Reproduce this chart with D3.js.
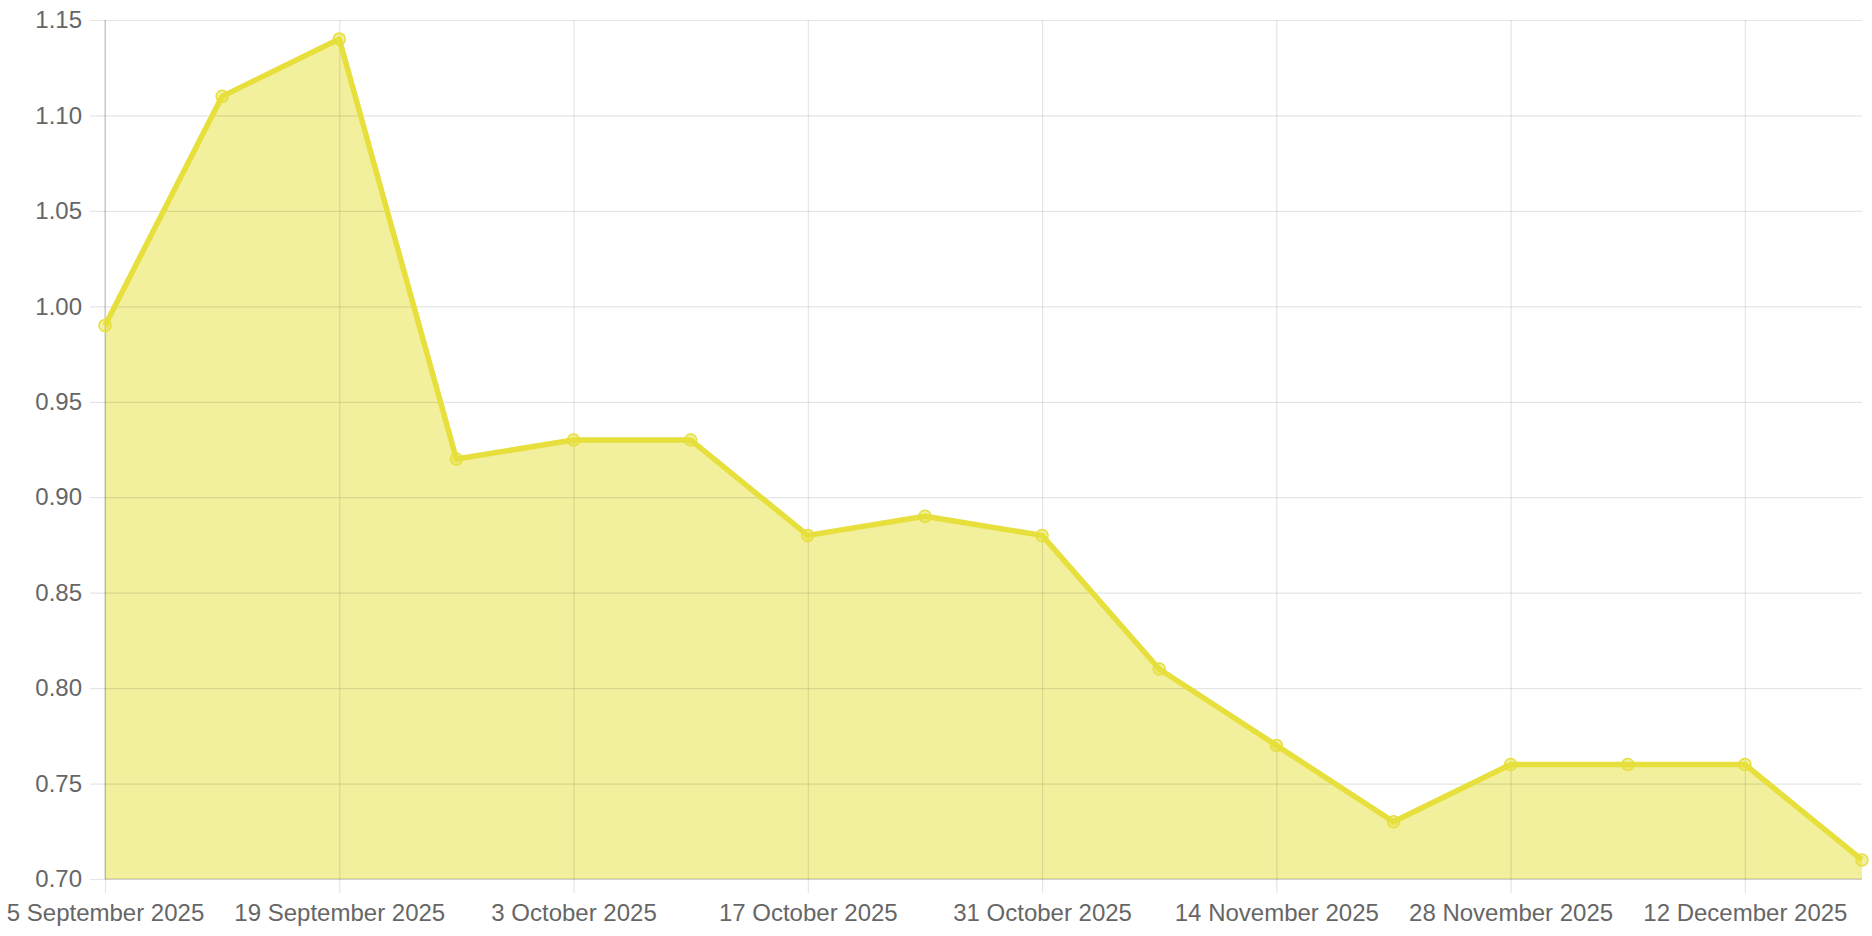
<!DOCTYPE html>
<html>
<head>
<meta charset="utf-8">
<script src="https://cdn.jsdelivr.net/npm/d3@7"></script>
<style>
  html, body { margin: 0; padding: 0; background: #fff; }
  text { font-family: "Liberation Sans", Arial, Helvetica, sans-serif; fill: #666; }
</style>
</head>
<body>
<div id="chart"></div>
<script>
// weekly readings, Friday dates
const dates = [
  "2025-09-05", "2025-09-12", "2025-09-19", "2025-09-26",
  "2025-10-03", "2025-10-10", "2025-10-17", "2025-10-24",
  "2025-10-31", "2025-11-07", "2025-11-14", "2025-11-21",
  "2025-11-28", "2025-12-05", "2025-12-12", "2025-12-19"
];
const values = [
  0.99, 1.11, 1.14, 0.92,
  0.93, 0.93, 0.88, 0.89,
  0.88, 0.81, 0.77, 0.73,
  0.76, 0.76, 0.76, 0.71
];
const xTickDates = [
  "2025-09-05", "2025-09-19", "2025-10-03", "2025-10-17",
  "2025-10-31", "2025-11-14", "2025-11-28", "2025-12-12"
];
const yTicks = [0.70, 0.75, 0.80, 0.85, 0.90, 0.95, 1.00, 1.05, 1.10, 1.15];

const W = 1872, H = 936;
const margin = {top: 20, right: 10, bottom: 57, left: 105};
const lineColor = "#e6df3c";

const parse = d3.utcParse("%Y-%m-%d");
const data = dates.map((d, i) => ({date: parse(d), value: values[i]}));

const svg = d3.select("#chart").append("svg")
  .attr("width", W)
  .attr("height", H);

const x = d3.scaleUtc()
  .domain(d3.extent(data, d => d.date))
  .range([margin.left, W - margin.right]);

const y = d3.scaleLinear()
  .domain([0.70, 1.15])
  .range([H - margin.bottom, margin.top]);

// fill first, gridlines show through it
svg.append("path")
  .datum(data)
  .attr("fill", lineColor)
  .attr("fill-opacity", 0.5)
  .attr("d", d3.area()
    .x(d => x(d.date))
    .y0(y(0.70))
    .y1(d => y(d.value)));

// y gridlines + labels
let yAxis = svg.append("g")
  .attr("transform", `translate(${margin.left},0)`)
  .call(d3.axisLeft(y)
    .tickValues(yTicks)
    .tickFormat(d3.format(".2f"))
    .tickSize(15)
    .tickPadding(8));
yAxis.select(".domain").remove();
yAxis.selectAll(".tick line")
  .attr("x1", W - margin.right - margin.left)
  .attr("x2", -15)
  .attr("stroke", "rgba(0,0,0,0.1)")
  .attr("stroke-width", 1.2);
yAxis.selectAll(".tick text").style("font-size", "24px");

// x gridlines + labels
let xAxis = svg.append("g")
  .attr("transform", `translate(0,${H - margin.bottom})`)
  .call(d3.axisBottom(x)
    .tickValues(xTickDates.map(parse))
    .tickFormat(d3.utcFormat("%-d %B %Y"))
    .tickSize(14)
    .tickPadding(11));
xAxis.select(".domain").remove();
xAxis.selectAll(".tick line")
  .attr("y1", -(H - margin.bottom - margin.top))
  .attr("y2", 14)
  .attr("stroke", "rgba(0,0,0,0.1)")
  .attr("stroke-width", 1.2);
xAxis.selectAll(".tick text").style("font-size", "24px");

// axis lines
svg.append("line")
  .attr("x1", margin.left).attr("x2", margin.left)
  .attr("y1", margin.top).attr("y2", H - margin.bottom)
  .attr("stroke", "rgba(0,0,0,0.15)")
  .attr("stroke-width", 1.5);
svg.append("line")
  .attr("x1", margin.left).attr("x2", W - margin.right)
  .attr("y1", H - margin.bottom).attr("y2", H - margin.bottom)
  .attr("stroke", "rgba(0,0,0,0.12)")
  .attr("stroke-width", 1.5);

svg.append("path")
  .datum(data)
  .attr("fill", "none")
  .attr("stroke", lineColor)
  .attr("stroke-width", 5.5)
  .attr("stroke-linejoin", "round")
  .attr("d", d3.line()
    .x(d => x(d.date))
    .y(d => y(d.value)));

svg.append("g")
  .selectAll("circle")
  .data(data)
  .join("circle")
  .attr("cx", d => x(d.date))
  .attr("cy", d => y(d.value))
  .attr("r", 6)
  .attr("fill", "rgba(230,223,60,0.5)")
  .attr("stroke", lineColor)
  .attr("stroke-width", 1.5);
</script>
</body>
</html>
